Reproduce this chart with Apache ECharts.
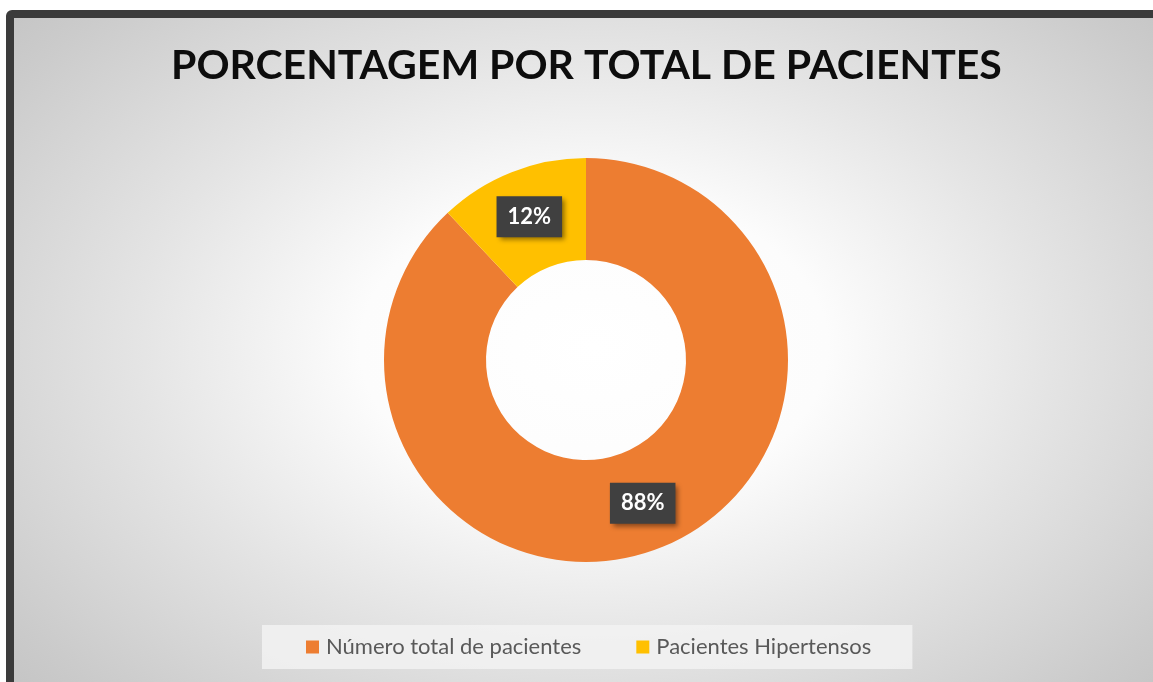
<!DOCTYPE html>
<html>
<head>
<meta charset="utf-8">
<script src="https://cdn.jsdelivr.net/npm/echarts@6/dist/echarts.min.js"></script>
<style>
  html, body { margin: 0; padding: 0; background: #fff; overflow: hidden; }
  #frame {
    position: absolute; left: 6px; top: 10px; width: 1160px; height: 700px;
    border: 8px solid #3b3b3b; border-radius: 6px 0 0 0;
    background: radial-gradient(ellipse 72% 78% at 50% 47%, #ffffff 0%, #fcfcfc 28%, #e4e4e4 55%, #cbcbcb 85%, #c0c0c0 100%);
  }
  #chart { position: absolute; left: 0; top: 0; width: 1153px; height: 682px; }
</style>
</head>
<body>
<div id="frame"></div>
<div id="chart"></div>
<script>
// dados do grafico
const categorias = ["Número total de pacientes", "Pacientes Hipertensos"];
const valores = [88, 12];
const cores = ["#ed7d31", "#ffc000"];

const chart = echarts.init(document.getElementById("chart"));
const option = {
  backgroundColor: "transparent",
  animation: false,
  title: {
    text: "PORCENTAGEM POR TOTAL DE PACIENTES",
    left: 166,
    top: 40,
    textStyle: {
      fontFamily: "Lato",
      fontWeight: "bold",
      fontSize: 41,
      color: "#0d0d0d",
    },
  },
  legend: {
    data: categorias,
    left: 262,
    top: 625,
    itemWidth: 13,
    itemHeight: 13,
    itemGap: 55,
    icon: "rect",
    padding: [11, 41, 11, 44],
    backgroundColor: "rgba(242,242,242,0.85)",
    textStyle: {
      fontFamily: "Lato",
      fontSize: 22,
      color: "#595959",
      padding: [0, 0, 0, 2],
    },
  },
  series: [
    {
      type: "pie",
      center: [586, 360],
      radius: [100, 202],
      startAngle: 90,
      clockwise: true,
      silent: true,
      itemStyle: { borderWidth: 0 },
      label: {
        show: true,
        position: "inside",
        formatter: "{d}%",
        fontFamily: "Lato",
        fontWeight: "bold",
        fontSize: 22,
        color: "#ffffff",
        backgroundColor: "#404040",
        padding: [10, 11, 9, 11],
        shadowColor: "rgba(0,0,0,0.45)",
        shadowBlur: 5,
        shadowOffsetX: 3,
        shadowOffsetY: 3,
      },
      labelLine: { show: false },
      data: categorias.map((nome, i) => ({
        name: nome,
        value: valores[i],
        itemStyle: { color: cores[i] },
      })),
    },
  ],
};
chart.setOption(option);
</script>
</body>
</html>
